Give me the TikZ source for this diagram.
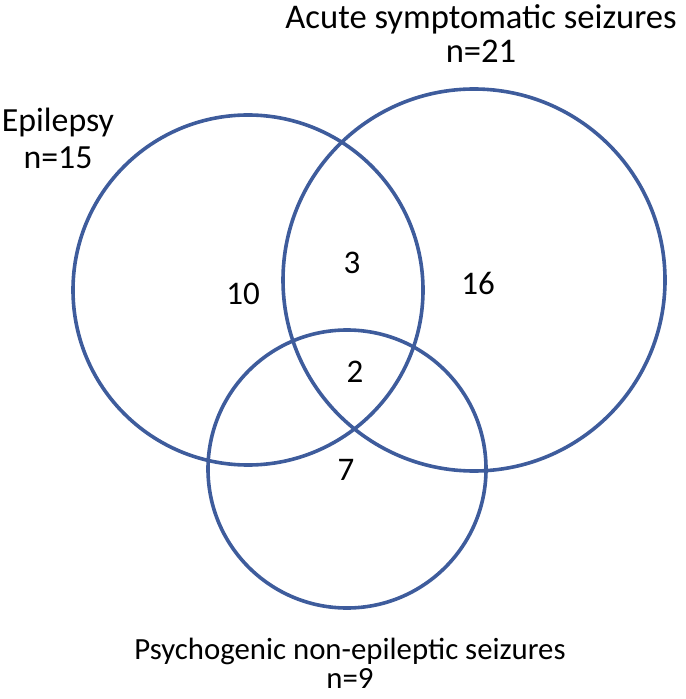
\documentclass[tikz,border=0pt]{standalone}
\usepackage{fontspec}
\setmainfont{Carlito}
\usepackage{tikz}
\definecolor{setblue}{RGB}{62,92,156}
\newcommand{\lbl}{\fontsize{16.5}{21}\selectfont}

\begin{document}
\begin{tikzpicture}[x=0.5pt,y=-0.5pt,
    setline/.style={draw=setblue,line width=1.8pt},
    every node/.style={font=\lbl,inner sep=0pt}]
      \useasboundingbox (0,0) rectangle (685,699);
      % the three sets
      \draw[setline] (248,290) circle [radius=175];
      \draw[setline] (474,280) circle [radius=191];
      \draw[setline] (347,469) circle [radius=139];
      % set names
      \node[align=center,font=\fontsize{16.9}{18.5}\selectfont](epi) at (58,138) {Epilepsy\\n=15};
      \node[align=center,font=\fontsize{17.3}{17}\selectfont](acu) at (481,34) {Acute symptomatic seizures\\n=21};
      \node[align=center,font=\fontsize{15.4}{14.5}\selectfont](psy) at (350,663) {Psychogenic non-epileptic seizures\\n=9};
      % region counts
      \node(e) at (243,294) {10};
      \node(ea) at (352,263) {3};
      \node(a) at (478,283) {16};
      \node(eap) at (355,372) {2};
      \node(p) at (346,470) {7};
    \end{tikzpicture}
\end{document}
